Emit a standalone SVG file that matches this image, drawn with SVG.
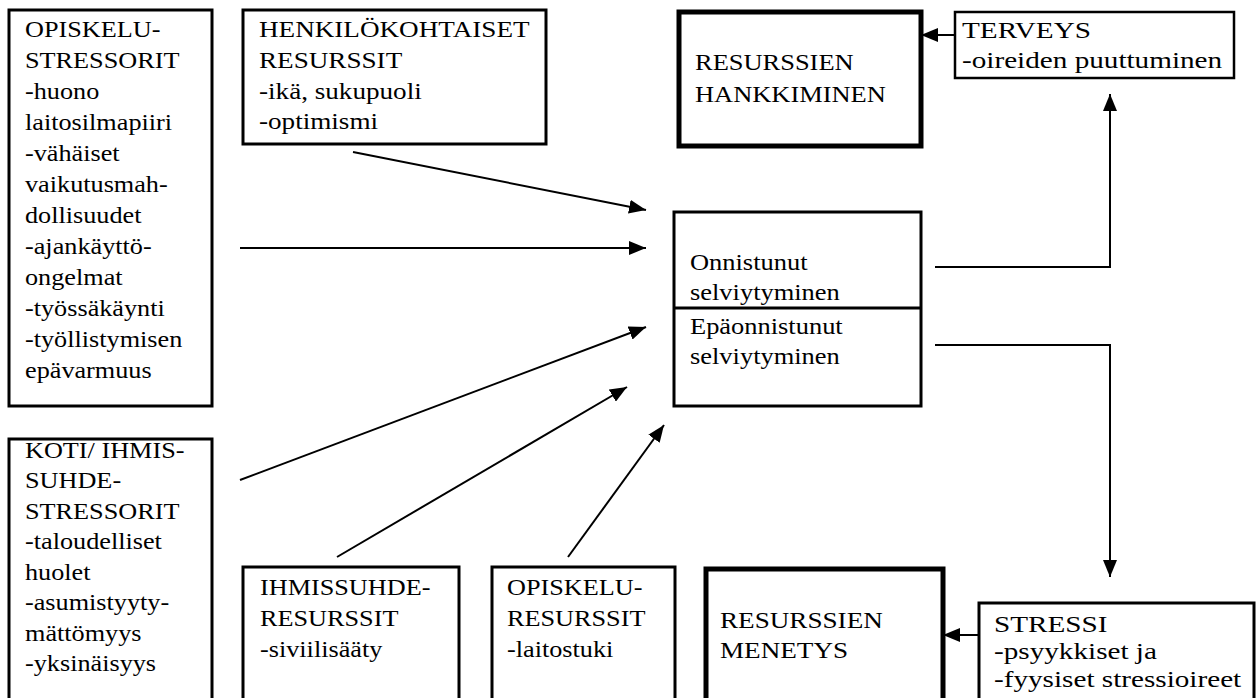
<svg xmlns="http://www.w3.org/2000/svg" width="1259" height="698" viewBox="0 0 1259 698">
<defs>
<marker id="ah" markerUnits="userSpaceOnUse" markerWidth="17" markerHeight="14" refX="17" refY="7" orient="auto">
<path d="M0,0 L17,7 L0,14 z" fill="#000"/>
</marker>
</defs>
<style>
.box{fill:#fff;stroke:#000;stroke-width:3}
.thick{fill:#fff;stroke:#000;stroke-width:5}
.thin{fill:#fff;stroke:#000;stroke-width:2.5}
text{font-family:"Times New Roman",Times,"Liberation Serif",Tinos,"Noto Serif","DejaVu Serif",FreeSerif,serif;font-size:23px;fill:#000}
.c{fill:none;stroke:#000;stroke-width:2}
</style>
<rect width="1259" height="698" fill="#fff"/>

<g id="connectors">
<line class="c" x1="353" y1="152" x2="646" y2="210" marker-end="url(#ah)"/>
<line class="c" x1="240" y1="248" x2="646" y2="248" marker-end="url(#ah)"/>
<line class="c" x1="240" y1="480" x2="646" y2="327" marker-end="url(#ah)"/>
<line class="c" x1="337" y1="557" x2="627" y2="387" marker-end="url(#ah)"/>
<line class="c" x1="568" y1="557" x2="664" y2="425" marker-end="url(#ah)"/>
<polyline class="c" points="935,267 1110,267 1110,94" marker-end="url(#ah)"/>
<polyline class="c" points="935,345 1110,345 1110,577" marker-end="url(#ah)"/>
<line class="c" x1="955" y1="35" x2="921" y2="35" marker-end="url(#ah)"/>
<line class="c" x1="978" y1="635" x2="943" y2="635" marker-end="url(#ah)"/>
</g>

<g id="opiskelu-stressorit">
<rect class="box" x="9" y="10" width="203" height="396"/>
<text transform="translate(25,37) scale(1.14,1)">
<tspan x="0" y="0">OPISKELU-</tspan>
<tspan x="0" y="31">STRESSORIT</tspan>
<tspan x="0" y="62">-huono</tspan>
<tspan x="0" y="93">laitosilmapiiri</tspan>
<tspan x="0" y="124">-vähäiset</tspan>
<tspan x="0" y="155">vaikutusmah-</tspan>
<tspan x="0" y="186">dollisuudet</tspan>
<tspan x="0" y="217">-ajankäyttö-</tspan>
<tspan x="0" y="248">ongelmat</tspan>
<tspan x="0" y="279">-työssäkäynti</tspan>
<tspan x="0" y="310">-työllistymisen</tspan>
<tspan x="0" y="341">epävarmuus</tspan>
</text>
</g>

<g id="henkilokohtaiset-resurssit">
<rect class="box" x="243" y="10" width="303" height="134"/>
<text transform="translate(259,37) scale(1.18,1)">
<tspan x="0" y="0">HENKILÖKOHTAISET</tspan>
<tspan x="0" y="31">RESURSSIT</tspan>
<tspan x="0" y="62">-ikä, sukupuoli</tspan>
<tspan x="0" y="92">-optimismi</tspan>
</text>
</g>

<g id="resurssien-hankkiminen">
<rect class="thick" x="679" y="12" width="242" height="134"/>
<text transform="translate(695,70) scale(1.15,1)">
<tspan x="0" y="0">RESURSSIEN</tspan>
<tspan x="0" y="32">HANKKIMINEN</tspan>
</text>
</g>

<g id="terveys">
<rect class="thin" x="955" y="12" width="279" height="66"/>
<text transform="translate(962,38) scale(1.27,1)">
<tspan x="0" y="0">TERVEYS</tspan>
<tspan x="0" y="30">-oireiden puuttuminen</tspan>
</text>
</g>

<g id="selviytyminen">
<rect class="box" x="674" y="212" width="247" height="194" stroke-width="3.5"/>
<line x1="674" y1="308" x2="921" y2="308" stroke="#000" stroke-width="3"/>
<text transform="translate(690,270) scale(1.15,1)">
<tspan x="0" y="0">Onnistunut</tspan>
<tspan x="0" y="30">selviytyminen</tspan>
<tspan x="0" y="64">Epäonnistunut</tspan>
<tspan x="0" y="94">selviytyminen</tspan>
</text>
</g>

<g id="koti-ihmissuhde-stressorit">
<rect class="box" x="9" y="439" width="203" height="270"/>
<text transform="translate(25,458) scale(1.14,1)">
<tspan x="0" y="0">KOTI/  IHMIS-</tspan>
<tspan x="0" y="30.5">SUHDE-</tspan>
<tspan x="0" y="61">STRESSORIT</tspan>
<tspan x="0" y="91.5">-taloudelliset</tspan>
<tspan x="0" y="122">huolet</tspan>
<tspan x="0" y="152.5">-asumistyyty-</tspan>
<tspan x="0" y="183">mättömyys</tspan>
<tspan x="0" y="213.5">-yksinäisyys</tspan>
</text>
</g>

<g id="ihmissuhde-resurssit">
<rect class="box" x="243" y="567" width="216" height="140"/>
<text transform="translate(260,595) scale(1.14,1)">
<tspan x="0" y="0">IHMISSUHDE-</tspan>
<tspan x="0" y="31">RESURSSIT</tspan>
<tspan x="0" y="62">-siviilisääty</tspan>
</text>
</g>

<g id="opiskelu-resurssit">
<rect class="box" x="492" y="567" width="183" height="140"/>
<text transform="translate(507,595) scale(1.14,1)">
<tspan x="0" y="0">OPISKELU-</tspan>
<tspan x="0" y="31">RESURSSIT</tspan>
<tspan x="0" y="62">-laitostuki</tspan>
</text>
</g>

<g id="resurssien-menetys">
<rect class="thick" x="706" y="569" width="237" height="140"/>
<text transform="translate(720,628) scale(1.18,1)">
<tspan x="0" y="0">RESURSSIEN</tspan>
<tspan x="0" y="30">MENETYS</tspan>
</text>
</g>

<g id="stressi">
<rect class="box" x="979" y="603" width="275" height="110"/>
<text transform="translate(994,632) scale(1.27,1)">
<tspan x="0" y="0">STRESSI</tspan>
<tspan x="0" y="27.5">-psyykkiset ja</tspan>
<tspan x="0" y="55">-fyysiset stressioireet</tspan>
</text>
</g>
</svg>
